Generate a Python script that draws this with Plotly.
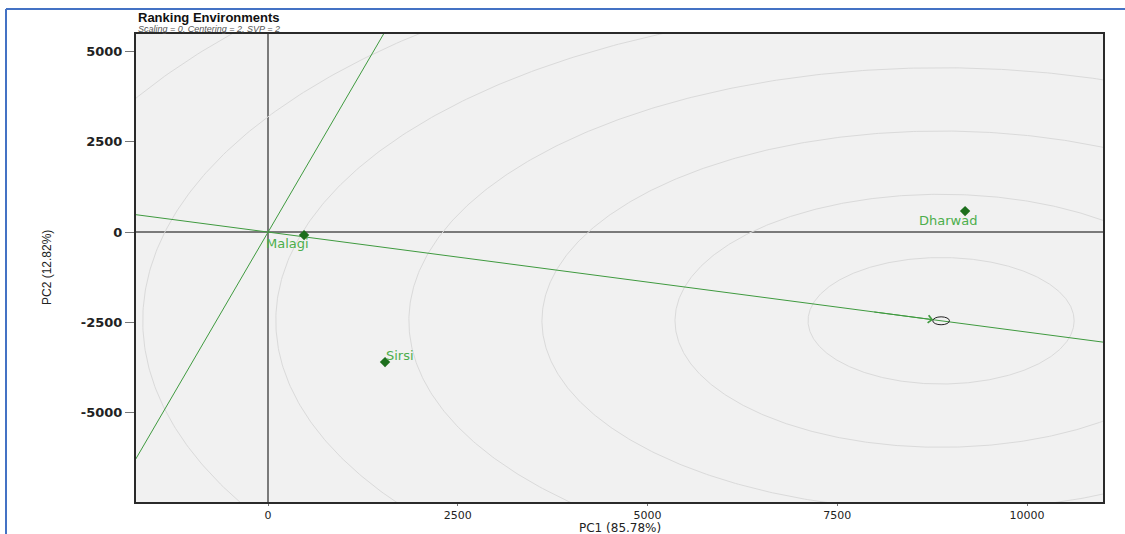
import numpy as np
import plotly.graph_objects as go

# Environment scores on the first two principal components
env_names = ["Dharwad", "Malagi", "Sirsi"]
pc1 = [9183, 474, 1541]
pc2 = [582, -83, -3603]

x_ticks = [0, 2500, 5000, 7500, 10000]
y_ticks = [-5000, -2500, 0, 2500, 5000]
x_range = [-1740, 11000]
y_range = [-7480, 5490]
ring_step = 1753          # spacing of the concentric rings around the ideal environment
n_rings = 10

LINE_GREEN = "#3f9a3f"
TEXT_GREEN = "#4cae4c"
POINT_GREEN = "#1d6e1d"
SANS = "DejaVu Sans, Verdana, sans-serif"

# Average-environment axis: direction of the mean environment, length of the longest vector
mx, my = np.mean(pc1), np.mean(pc2)
unit = np.array([mx, my]) / np.hypot(mx, my)
max_len = max(np.hypot(a, b) for a, b in zip(pc1, pc2))
ix, iy = unit * max_len

fig = go.Figure()

# Concentric rings centred on the ideal environment
theta = np.linspace(0, 2 * np.pi, 721)
for k in range(1, n_rings + 1):
    r = k * ring_step
    fig.add_trace(go.Scatter(x=ix + r * np.cos(theta), y=iy + r * np.sin(theta),
                             mode="lines", line=dict(color="#dadada", width=1),
                             hoverinfo="skip", showlegend=False))

# Average-environment axis and its perpendicular through the origin
xs = np.array(x_range)
fig.add_trace(go.Scatter(x=xs, y=xs * iy / ix, mode="lines",
                         line=dict(color=LINE_GREEN, width=1), showlegend=False))
ys = np.array(y_range)
fig.add_trace(go.Scatter(x=-ys * iy / ix, y=ys, mode="lines",
                         line=dict(color=LINE_GREEN, width=1), showlegend=False))

# Environment markers and labels
fig.add_trace(go.Scatter(x=pc1, y=pc2, mode="markers",
                         marker=dict(symbol="diamond", size=8, color=POINT_GREEN),
                         showlegend=False))
offsets = {"Dharwad": (-17, 9), "Malagi": (-17, 8), "Sirsi": (15, -7)}
for name, a, b in zip(env_names, pc1, pc2):
    dx, dy = offsets[name]
    fig.add_annotation(x=a, y=b, text=name, showarrow=False, xshift=dx, yshift=-dy,
                       font=dict(family=SANS, size=13, color=TEXT_GREEN))

# Ideal environment: small circle with an arrow pointing to it
fig.add_shape(type="circle", xref="x", yref="y", x0=ix - 110, x1=ix + 110,
              y0=iy - 110, y1=iy + 110, line=dict(color="#222222", width=1))
fig.add_annotation(x=ix, y=iy, ax=ix - 900, ay=iy - 900 * iy / ix, axref="x", ayref="y",
                   xref="x", yref="y", showarrow=True, arrowhead=4, arrowsize=1.5,
                   arrowwidth=1, arrowcolor=LINE_GREEN, standoff=8, text="")

# Titles
fig.add_annotation(xref="paper", yref="paper", x=0, y=1, yshift=17, xanchor="left", yanchor="middle",
                   text="<b>Ranking Environments</b>", showarrow=False,
                   font=dict(family="Liberation Sans, Arial", size=13, color="#111111"))
fig.add_annotation(xref="paper", yref="paper", x=0, y=1, yshift=5, xanchor="left", yanchor="middle",
                   text="<i>Scaling = 0, Centering = 2, SVP = 2</i>", showarrow=False,
                   font=dict(family="Liberation Sans, Arial", size=9, color="#555555"))
fig.add_annotation(xref="paper", yref="paper", x=0.5, y=0, yshift=-26, xanchor="center", yanchor="middle",
                   text="PC1 (85.78%)", showarrow=False,
                   font=dict(family=SANS, size=12, color="#222222"))
fig.add_annotation(xref="paper", yref="paper", x=0, y=0.5, xshift=-89, xanchor="center", yanchor="middle",
                   text="PC2 (12.82%)", textangle=-90, showarrow=False,
                   font=dict(family="Liberation Sans, Arial", size=12, color="#222222"))

# Blue frame around the figure
fig.add_shape(type="line", xref="paper", yref="paper", x0=-130 / 967, x1=-130 / 967, y0=-1, y1=1 + 25 / 468,
              line=dict(color="#4472c4", width=2))
fig.add_shape(type="line", xref="paper", yref="paper", x0=-130 / 967, x1=1.1, y0=1 + 25 / 468, y1=1 + 25 / 468,
              line=dict(color="#4472c4", width=2))

axis_common = dict(showgrid=False, zeroline=True, zerolinecolor="#7a7a7a", zerolinewidth=1.5,
                   showline=True, mirror=True, linecolor="#2a2a2a", linewidth=2,
                   ticks="outside", tickcolor="#777777", tickwidth=1)
fig.update_xaxes(range=x_range, tickvals=x_ticks, ticktext=[str(v) for v in x_ticks], ticklen=2,
                 tickfont=dict(family=SANS, size=11, color="#222222"),
                 **axis_common)
fig.update_yaxes(range=y_range, tickvals=y_ticks, ticktext=[str(v) for v in y_ticks], ticklen=9,
                 tickfont=dict(family=SANS, size=13, color="#222222", weight="bold"),
                 **axis_common)

fig.update_layout(width=1125, height=534, autosize=False,
                  margin=dict(l=136, r=22, t=34, b=32),
                  plot_bgcolor="#f1f1f1", paper_bgcolor="white", showlegend=False)

fig.write_html("out.html")
